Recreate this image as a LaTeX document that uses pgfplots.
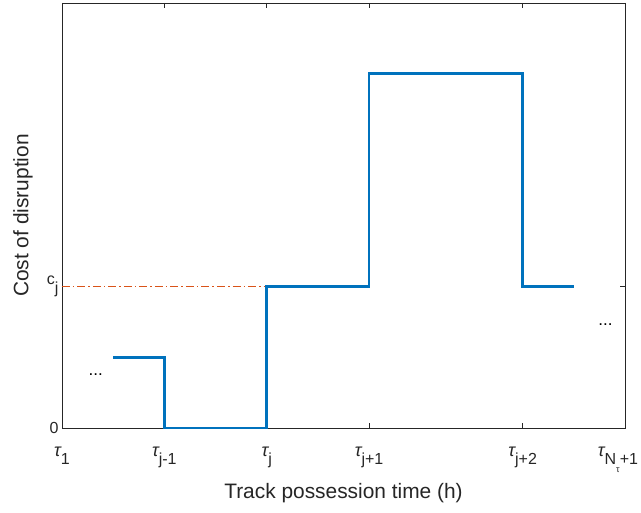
\documentclass[border=0pt]{standalone}
\usepackage{fontspec}
\setmainfont{Liberation Sans}
\usepackage{pgfplots}
\pgfplotsset{compat=1.18}
\definecolor{mblue}{RGB}{0,114,189}
\definecolor{morange}{RGB}{217,83,25}
\definecolor{axgray}{RGB}{38,38,38}
\newcommand\sub[1]{\raisebox{-0.55em}{#1}}
\newcommand\subs[1]{\raisebox{-0.45em}{\fontsize{9}{10}\selectfont #1}}
\newcommand\tu{{\fontsize{18}{18}\selectfont\itshape τ}}
\begin{document}
\begin{tikzpicture}
\useasboundingbox (-62pt,-85pt) rectangle (579pt,428pt);
\begin{axis}[
  at={(0,0)}, anchor=south west,
  scale only axis, width=563pt, height=425pt,
  xmin=0, xmax=5.5, ymin=0, ymax=3,
  xtick={0,1,2,3,4.5,5.5},
  xticklabels={\tu\sub{1}, \tu\sub{j-1}, \tu\sub{j}, \tu\sub{j+1}, \tu\sub{j+2}, \hspace*{-14pt}\tu\sub{N\subs{τ}+1}},
  ytick={0,1},
  yticklabels={0, c\sub{j}},
  tick align=inside,
  major tick length=5pt,
  axis line style={axgray, line width=0.6pt},
  tick style={axgray, line width=0.6pt},
  ticklabel style={font=\fontsize{16}{18}\selectfont, text=black!85},
  xticklabel style={anchor=north, yshift=-15pt},
  label style={font=\fontsize{20.9}{24}\selectfont, text=black!85},
  xlabel={Track possession time (h)},
  ylabel={Cost of disruption},
  xlabel style={at={(axis description cs:0.5,0)}, anchor=center, yshift=-65pt},
  ylabel style={at={(axis description cs:0,0.5)}, anchor=center, yshift=39pt},
  clip=false,
]
\addplot[morange, line width=1pt, dash pattern=on 8pt off 3pt on 1.5pt off 3pt] coordinates {(0,1) (2,1)};
\addplot[mblue, line width=2.8pt, line join=miter] coordinates {
  (0.5,0.5) (1,0.5) (1,0) (2,0) (2,1) (3,1) (3,2.5) (4.5,2.5) (4.5,1) (5,1)};
\node[font=\fontsize{17}{18}\selectfont] at (axis cs:0.33,0.38) {...};
\node[font=\fontsize{17}{18}\selectfont] at (axis cs:5.31,0.73) {...};
\end{axis}
\end{tikzpicture}
\end{document}
